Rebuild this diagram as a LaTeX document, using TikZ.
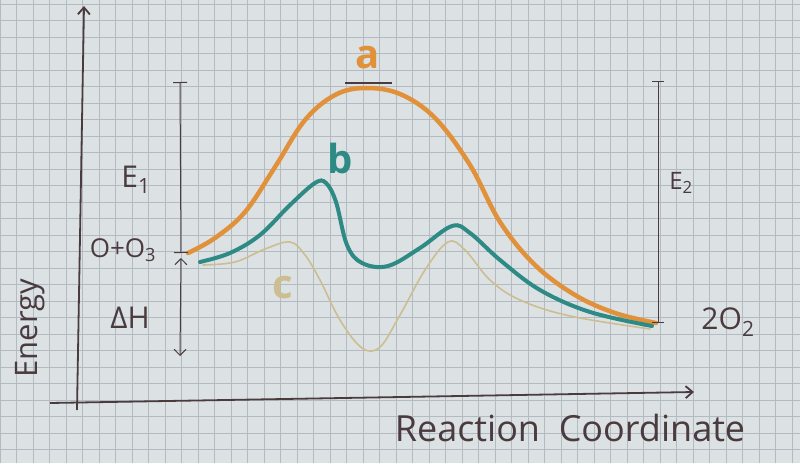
\documentclass[tikz,border=0pt]{standalone}
\usepackage{fontspec}
\setmainfont{Open Sans}
\usetikzlibrary{arrows.meta,positioning}

\definecolor{paper}{HTML}{DCE1E4}
\definecolor{gridline}{HTML}{B3BAC1}
\definecolor{pen}{HTML}{4A3B3E}
\definecolor{curvea}{HTML}{E0913A}
\definecolor{curveb}{HTML}{2E8A85}
\definecolor{curvec}{HTML}{CDBE92}

\begin{document}
\begin{tikzpicture}[x=1pt,y=-1pt]
\tikzset{
  axis/.style={pen,line width=1.8pt,-{Straight Barb[length=7pt,width=12pt]}},
  bar/.style={pen,line width=1pt},
  lbl/.style={pen,font=\fontsize{28}{30}\selectfont},
  curvelbl/.style={font=\fontsize{40}{42}\selectfont\bfseries}
}
\useasboundingbox (0,0) rectangle (800,463);

% Grid paper
\fill[paper] (0,0) rectangle (800,463);
\foreach \gx in {0,16.5,...,800}
  \draw[gridline,line width=0.8pt] (\gx,0) -- (\gx,463);
\foreach \gy in {4,20.5,...,463}
  \draw[gridline,line width=0.8pt] (0,\gy) -- (800,\gy);

% Axes
\coordinate (origin) at (78,403);
\coordinate (ystart) at (77,410);
\coordinate (xstart) at (50,403);
\coordinate (ytop) at (84,6);
\coordinate (xend) at (694,392);
\draw[axis] (ystart) -- (ytop);
\draw[axis] (xstart) -- (xend);
\node[pen,rotate=90,font=\fontsize{31}{33}\selectfont] (energy) at (30,328) {Energy};
\node[pen,font=\fontsize{36}{38}\selectfont] (reaction) at (570,428) {Reaction\ \ Coordinate};

% Curve a
\draw[curvea,line width=4.5pt,line cap=round] plot[smooth,tension=0.6] coordinates {
  (188,253) (215,238) (245,212) (275,167) (305,120) (335,95) (365,88)
  (400,94) (435,118) (470,165) (500,222) (535,265) (575,295) (615,313) (656,323)};
% Curve b
\draw[curveb,line width=4pt,line cap=round] plot[smooth,tension=0.6] coordinates {
  (200,262) (230,253) (260,235) (290,205) (315,183) (326,183) (336,202)
  (347,245) (362,263) (388,266) (420,248) (452,226) (470,233) (500,260)
  (540,290) (590,312) (652,326)};
% Curve c
\draw[curvec,line width=1.6pt,line cap=round] plot[smooth,tension=0.6] coordinates {
  (203,265) (235,262) (265,249) (290,242) (305,255) (320,280) (340,320)
  (362,348) (380,347) (400,315) (425,270) (448,242) (465,250) (490,280)
  (520,300) (570,316) (650,329)};

% Curve labels
\node[curvea,curvelbl] (la) at (368,58) {a};
\coordinate (peakl) at (345,83);
\coordinate (peakr) at (392,83);
\draw[pen,line width=1.8pt] (peakl) -- (peakr);
\node[curveb,curvelbl] (lb) at (340,158) {b};
\node[curvec,curvelbl] (lc) at (283,288) {c};

% E1 and Delta H
\coordinate (e1top) at (180,82);
\coordinate (e1bot) at (181,253);
\draw[bar,{Bar[width=14pt]}-{Bar[width=14pt]}] (e1top) -- (e1bot);
\node[lbl,font=\fontsize{30}{32}\selectfont] (e1) at (136,180) {E\textsubscript{1}};
\coordinate (dhtop) at (181,258);
\coordinate (dhbot) at (180,356);
\draw[bar,{Straight Barb[length=6pt,width=12pt]}-{Straight Barb[length=6pt,width=12pt]}] (dhtop) -- (dhbot);
\node[lbl,font=\fontsize{30}{32}\selectfont] (dh) at (130,318) {ΔH};
\node[lbl,font=\fontsize{26}{28}\selectfont] (react) at (123,250) {O+O\textsubscript{3}};

% E2 and product
\coordinate (e2top) at (658,81);
\coordinate (e2bot) at (658,323);
\draw[bar,{Bar[width=12pt]}-{Bar[width=12pt]}] (e2top) -- (e2bot);
\node[lbl,font=\fontsize{24}{26}\selectfont] (e2) at (681,183) {E\textsubscript{2}};
\node[lbl,font=\fontsize{30}{32}\selectfont] (prod) at (728,322) {2O\textsubscript{2}};

\end{tikzpicture}
\end{document}
